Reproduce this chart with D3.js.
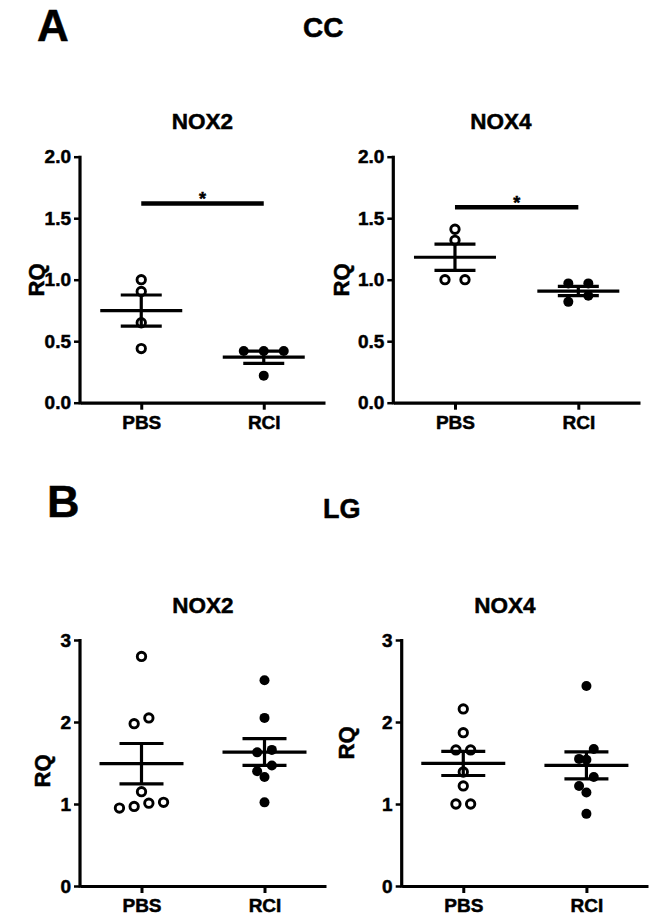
<!DOCTYPE html>
<html>
<head>
<meta charset="utf-8">
<script src="https://cdn.jsdelivr.net/npm/d3@7"></script>
<style>
  body { margin: 0; background: #fff; }
  text { font-family: "Liberation Sans", Arial, sans-serif; font-weight: bold; stroke: #000; stroke-width: 0.5px; }
</style>
</head>
<body>
<div id="chart"></div>
<script>
// groups on the x axis
const groups = ["PBS", "RCI"];

// A - CC, RQ values
const ccNox2Pbs = [1.00, 0.905, 0.65, 0.44];
const ccNox2Rci = [0.42, 0.42, 0.42, 0.22];
const ccNox4Pbs = [1.41, 1.32, 1.00, 1.00];
const ccNox4Rci = [0.97, 0.97, 0.87, 0.82];

// B - LG
const lgNox2Pbs = [2.80, 2.05, 1.98, 1.15, 1.02, 1.01, 0.97, 0.95];
const lgNox2Rci = [2.51, 2.05, 1.66, 1.63, 1.47, 1.40, 1.33, 1.02];
const lgNox4Pbs = [2.16, 1.87, 1.66, 1.66, 1.39, 1.22, 1.00, 1.00];
const lgNox4Rci = [2.44, 1.67, 1.55, 1.54, 1.33, 1.22, 1.14, 0.88];

// y tick values
const yTicksCC = [0, 0.5, 1.0, 1.5, 2.0];
const yTicksLG = [0, 1, 2, 3];

// significance bars (level in RQ units), null = none
const sigCcNox2 = 1.62;
const sigCcNox4 = 1.59;

const width = 651, height = 915;

const svg = d3.select("#chart").append("svg")
  .attr("width", width)
  .attr("height", height);

// panel letters and section titles
svg.append("text").attr("x", 37).attr("y", 40.5).attr("font-size", 44).text("A");
svg.append("text").attr("x", 303).attr("y", 36.5).attr("font-size", 28).text("CC");
svg.append("text").attr("x", 47).attr("y", 516.5).attr("font-size", 45).text("B");
svg.append("text").attr("x", 323).attr("y", 517.5).attr("font-size", 27).text("LG");

const panels = [
  { title: "NOX2", values: [ccNox2Pbs, ccNox2Rci], ticks: yTicksCC, fmt: d3.format(".1f"), sig: sigCcNox2,
    x0: 80, x1: 325, yBottom: 402.7, yTop: 156.7, titleX: 202.5, titleY: 129, rqX: 36, rqY: 280,
    spacing: 20, meanHalf: 41, capHalf: 20.5 },
  { title: "NOX4", values: [ccNox4Pbs, ccNox4Rci], ticks: yTicksCC, fmt: d3.format(".1f"), sig: sigCcNox4,
    x0: 393.3, x1: 640, yBottom: 402.7, yTop: 156.7, titleX: 501, titleY: 129, rqX: 341.5, rqY: 280,
    spacing: 20, meanHalf: 41, capHalf: 20.5 },
  { title: "NOX2", values: [lgNox2Pbs, lgNox2Rci], ticks: yTicksLG, fmt: d3.format("d"), sig: null,
    x0: 80, x1: 326, yBottom: 886, yTop: 640, titleX: 203, titleY: 612.5, rqX: 42, rqY: 771,
    spacing: 14.7, meanHalf: 42, capHalf: 22 },
  { title: "NOX4", values: [lgNox4Pbs, lgNox4Rci], ticks: yTicksLG, fmt: d3.format("d"), sig: null,
    x0: 401.7, x1: 648, yBottom: 886, yTop: 640, titleX: 505, titleY: 612.5, rqX: 346, rqY: 743,
    spacing: 14.7, meanHalf: 42, capHalf: 22 }
];

// simple row-based swarm: points closer than `thresh` px vertically share a row
function swarm(values, y, spacing, thresh) {
  const sorted = values.slice().sort((a, b) => b - a);
  const rows = [];
  sorted.forEach(v => {
    const last = rows[rows.length - 1];
    if (last && Math.abs(y(v) - y(last[0])) < thresh) last.push(v);
    else rows.push([v]);
  });
  const out = [];
  rows.forEach(r => {
    r.sort((a, b) => a - b);
    r.forEach((v, k) => out.push({ v: v, dx: (k - (r.length - 1) / 2) * spacing }));
  });
  return out;
}

panels.forEach(p => {
  const g = svg.append("g");

  const x = d3.scalePoint()
    .domain(groups)
    .range([p.x0, p.x1])
    .padding(0.5);

  const yMax = d3.max(p.ticks);
  const y = d3.scaleLinear()
    .domain([0, yMax])
    .range([p.yBottom, p.yTop]);

  // axes
  const xAxis = g.append("g")
    .attr("transform", `translate(0,${p.yBottom})`)
    .call(d3.axisBottom(x).tickSize(7).tickSizeOuter(0).tickPadding(6));
  xAxis.select(".domain").attr("stroke-width", 3.2);
  xAxis.selectAll(".tick line").attr("stroke-width", 3);
  xAxis.selectAll(".tick text").attr("font-size", 19).attr("fill", "#000")
    .attr("font-family", "Liberation Sans, Arial, sans-serif").attr("font-weight", "bold");

  const yAxis = g.append("g")
    .attr("transform", `translate(${p.x0},0)`)
    .call(d3.axisLeft(y).tickValues(p.ticks).tickFormat(p.fmt).tickSize(6).tickSizeOuter(0).tickPadding(3));
  yAxis.select(".domain").attr("stroke-width", 3.2).attr("d", `M0,${p.yBottom + 1.6}V${p.yTop - 1}`);
  yAxis.selectAll(".tick line").attr("stroke-width", 2.5);
  yAxis.selectAll(".tick text").attr("font-size", 19).attr("fill", "#000")
    .attr("font-family", "Liberation Sans, Arial, sans-serif").attr("font-weight", "bold");

  // title and y label
  g.append("text")
    .attr("x", p.titleX).attr("y", p.titleY)
    .attr("text-anchor", "middle").attr("font-size", 22.5)
    .text(p.title);

  g.append("text")
    .attr("transform", `translate(${p.rqX},${p.rqY}) rotate(-90)`)
    .attr("text-anchor", "middle").attr("dy", "0.36em").attr("font-size", 22)
    .text("RQ");

  // points, then mean +/- SEM on top
  groups.forEach((grp, gi) => {
    const vals = p.values[gi];
    const cx = x(grp);
    const pts = swarm(vals, y, p.spacing, 10.5);
    const filled = grp === "RCI";

    g.append("g").selectAll("circle")
      .data(pts)
      .join("circle")
      .attr("cx", d => cx + d.dx)
      .attr("cy", d => y(d.v))
      .attr("r", filled ? 5 : 4.2)
      .attr("fill", filled ? "#000" : "#fff")
      .attr("stroke", "#000")
      .attr("stroke-width", filled ? 0 : 2.9);

    const mean = d3.mean(vals);
    const sem = d3.deviation(vals) / Math.sqrt(vals.length);

    const eb = g.append("g").attr("stroke", "#000").attr("stroke-width", 3.2);
    eb.append("line")
      .attr("x1", cx - p.meanHalf).attr("x2", cx + p.meanHalf)
      .attr("y1", y(mean)).attr("y2", y(mean));
    eb.append("line")
      .attr("x1", cx).attr("x2", cx)
      .attr("y1", y(mean - sem)).attr("y2", y(mean + sem));
    [mean - sem, mean + sem].forEach(v => {
      eb.append("line")
        .attr("x1", cx - p.capHalf).attr("x2", cx + p.capHalf)
        .attr("y1", y(v)).attr("y2", y(v));
    });
  });

  // significance bar
  if (p.sig != null) {
    g.append("line")
      .attr("x1", x("PBS")).attr("x2", x("RCI"))
      .attr("y1", y(p.sig)).attr("y2", y(p.sig))
      .attr("stroke", "#000").attr("stroke-width", 4.5);
    g.append("text")
      .attr("x", (x("PBS") + x("RCI")) / 2)
      .attr("y", y(p.sig) + 1.5)
      .attr("text-anchor", "middle").attr("font-size", 18)
      .text("*");
  }
});
</script>
</body>
</html>
